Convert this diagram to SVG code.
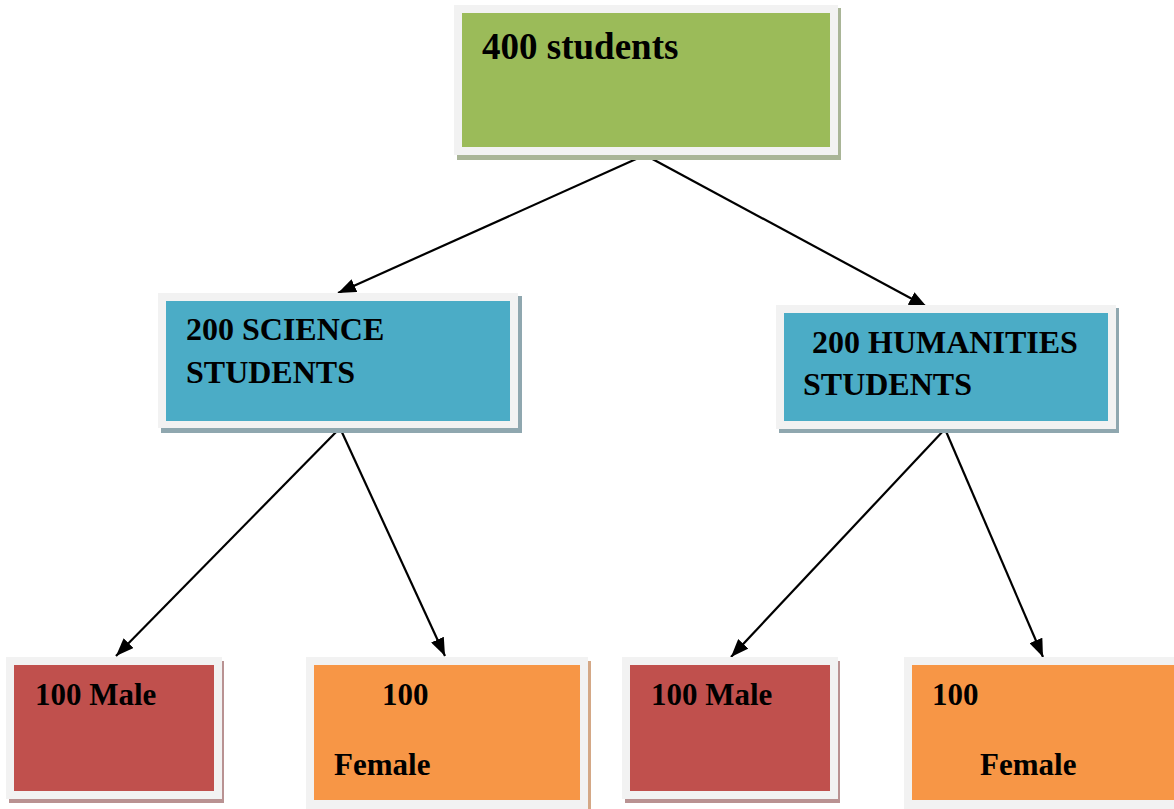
<svg xmlns="http://www.w3.org/2000/svg" width="1174" height="809" viewBox="0 0 1174 809">
<style>
.frame{fill:#F2F2F2}
.t{font-family:"Liberation Serif","Times New Roman",serif;font-weight:bold;fill:#000}
.t1{font-size:37px}
.t2{font-size:32px}
.t3{font-size:31px}
.conn line{stroke:#000;stroke-width:2.2}
</style>
<defs>
<marker id="ah" markerUnits="userSpaceOnUse" markerWidth="18" markerHeight="14" viewBox="0 0 18 14" refX="18" refY="7" orient="auto">
<path d="M0,0 L18,7 L0,14 Z" fill="#000"/>
</marker>
</defs>
<rect width="1174" height="809" fill="#fff"/>
<g id="conns" class="conn">
<line x1="645" y1="155" x2="338" y2="293" marker-end="url(#ah)"/>
<line x1="645" y1="155" x2="927" y2="307" marker-end="url(#ah)"/>
<line x1="340" y1="428" x2="116" y2="656" marker-end="url(#ah)"/>
<line x1="340" y1="428" x2="445" y2="656" marker-end="url(#ah)"/>
<line x1="945" y1="429" x2="731" y2="657" marker-end="url(#ah)"/>
<line x1="945" y1="429" x2="1043" y2="657" marker-end="url(#ah)"/>
</g>
<g id="n400">
<rect x="457" y="8" width="384" height="152" fill="#A9B597"/>
<rect class="frame" x="454" y="5" width="384" height="150"/>
<rect x="462" y="13" width="368" height="134" fill="#9BBB59"/>
<text class="t t1" x="482" y="59">400 students</text>
</g>
<g id="nsci">
<rect x="161" y="296" width="361" height="137" fill="#8FA7AF"/>
<rect class="frame" x="158" y="293" width="360" height="135"/>
<rect x="166" y="301" width="344" height="120" fill="#4BACC6"/>
<text class="t t2" x="186" y="340">200 SCIENCE</text>
<text class="t t2" x="186" y="383">STUDENTS</text>
</g>
<g id="nhum">
<rect x="779" y="308" width="340" height="125" fill="#8FA7AF"/>
<rect class="frame" x="776" y="305" width="340" height="124"/>
<rect x="784" y="313" width="324" height="108" fill="#4BACC6"/>
<text class="t t2" x="812" y="353">200 HUMANITIES</text>
<text class="t t2" x="803" y="395">STUDENTS</text>
</g>
<g id="nmale1">
<rect x="9" y="661" width="215" height="142" fill="#B99292"/>
<rect class="frame" x="6" y="657" width="216" height="142"/>
<rect x="14" y="665" width="200" height="126" fill="#C0504D"/>
<text class="t t3" x="35" y="705">100 Male</text>
</g>
<g id="nfem1">
<rect x="309" y="661" width="282" height="155" fill="#D4A886"/>
<rect class="frame" x="306" y="657" width="282" height="160"/>
<rect x="314" y="665" width="266" height="135" fill="#F79646"/>
<text class="t t3" x="382" y="705">100</text>
<text class="t t3" x="334" y="775">Female</text>
</g>
<g id="nmale2">
<rect x="625" y="661" width="215" height="142" fill="#B99292"/>
<rect class="frame" x="622" y="657" width="216" height="142"/>
<rect x="630" y="665" width="200" height="126" fill="#C0504D"/>
<text class="t t3" x="651" y="705">100 Male</text>
</g>
<g id="nfem2">
<rect x="907" y="661" width="282" height="155" fill="#D4A886"/>
<rect class="frame" x="904" y="657" width="282" height="160"/>
<rect x="912" y="665" width="266" height="135" fill="#F79646"/>
<text class="t t3" x="932" y="705">100</text>
<text class="t t3" x="980" y="775">Female</text>
</g>
</svg>
